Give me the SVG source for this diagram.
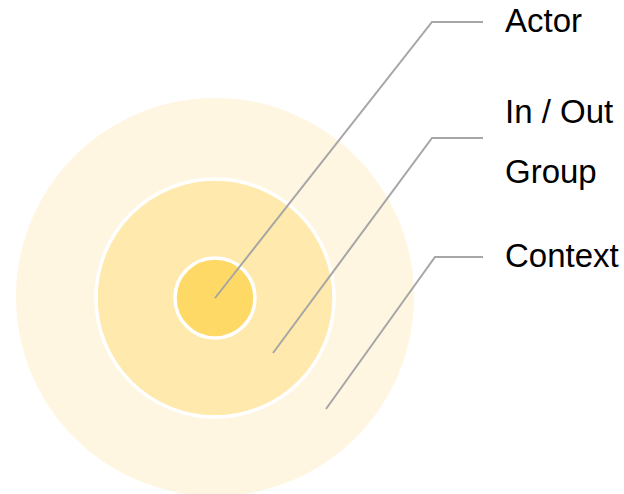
<svg xmlns="http://www.w3.org/2000/svg" width="624" height="494" viewBox="0 0 624 494">
<style>
.lbl{font-family:"Liberation Sans",Arial,sans-serif;font-size:33px;fill:#000}
.ring{stroke:#fff;stroke-width:3.5}
.conn{fill:none;stroke:#A6A6A6;stroke-width:2}
</style>
<rect width="624" height="494" fill="#fff"/>
<g id="context"><circle cx="215" cy="297" r="199" fill="#FFF6E2"/></g>
<g id="group"><circle class="ring" cx="215" cy="298" r="119" fill="#FFE9AD"/></g>
<g id="actor"><circle class="ring" cx="215" cy="298" r="40" fill="#FFD966"/></g>
<g id="connectors">
<polyline class="conn" points="215,298 432,22 483,22"/>
<polyline class="conn" points="273,353 432,138 483,138"/>
<polyline class="conn" points="326,409 435,257 483,257"/>
</g>
<g id="labels">
<text class="lbl" x="505" y="32">Actor</text>
<text class="lbl" x="505" y="123">In / Out</text>
<text class="lbl" x="505" y="183">Group</text>
<text class="lbl" x="505" y="267">Context</text>
</g>
</svg>
